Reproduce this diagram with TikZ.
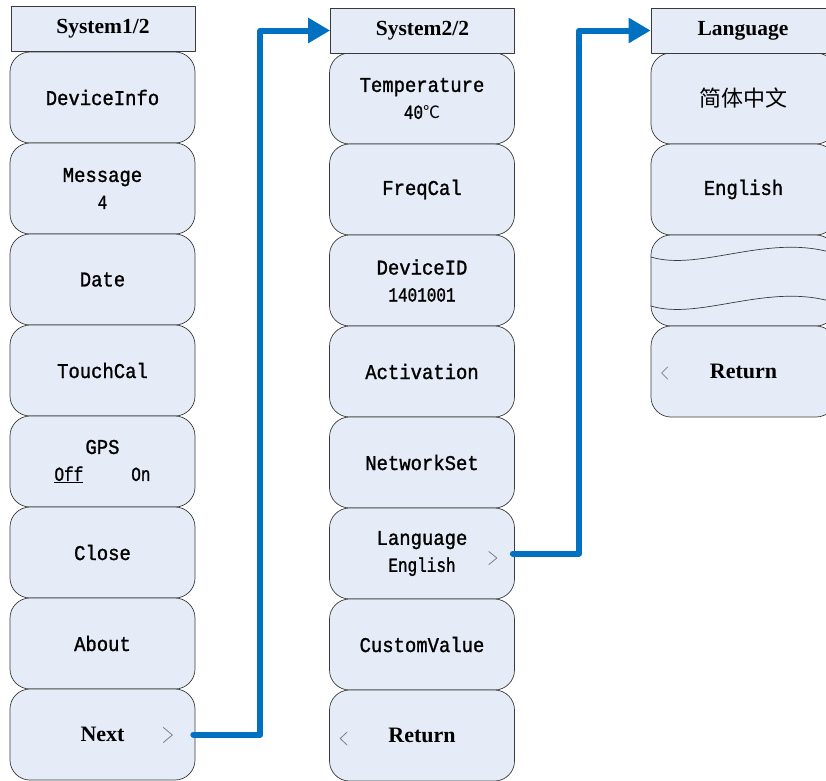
\documentclass[tikz,border=0pt]{standalone}
\usepackage{fontspec}
\setmainfont{Liberation Serif}
\newfontfamily\keyfont[FakeStretch=0.9,FakeBold=1.2]{Liberation Mono}
\newfontfamily\subfont[FakeStretch=0.8,FakeBold=1.2]{Liberation Mono}
\newfontfamily\cjkfont{Noto Sans CJK SC}
\usetikzlibrary{arrows.meta}
\definecolor{menuFill}{HTML}{E6ECF7}
\definecolor{menuEdge}{HTML}{3A3A3A}
\definecolor{menuLink}{HTML}{0070C0}
\definecolor{menuMuted}{HTML}{808080}
\tikzset{
  menu diagram/.style={x=1pt, y=-1pt, line cap=round, line join=round},
  menu head/.style={draw=menuEdge, fill=menuFill, line width=0.7pt,
    minimum width=184pt, minimum height=45pt, inner sep=0pt,
    font=\bfseries\fontsize{21.5}{24}\selectfont},
  menu key/.style={draw=menuEdge, fill=menuFill, line width=0.7pt,
    rounded corners=20pt, minimum width=185pt, minimum height=91pt,
    inner sep=0pt, align=center, font=\keyfont\fontsize{21}{27}\selectfont},
  menu bold key/.style={menu key, font=\bfseries\fontsize{22}{26}\selectfont},
  menu link/.style={-{Triangle[length=22pt,width=24pt]}, draw=menuLink,
    line width=6pt},
  menu chevron/.style={draw=menuMuted, line width=0.8pt},
  menu wave/.style={draw=menuEdge, line width=0.7pt}
}
\newcommand{\subline}[1]{{\subfont\fontsize{20}{27}\selectfont #1}}

\begin{document}
\begin{tikzpicture}[menu diagram]
\useasboundingbox (0,0) rectangle (826,780);
% page 1
\node[menu key] (devinfo) at (102.5,97.5) {DeviceInfo};
\node[menu key] (message) at (102.5,188.5) {Message\\\subline{4}};
\node[menu key] (date) at (102.5,279.5) {Date};
\node[menu key] (touchcal) at (102.5,370.5) {TouchCal};
\node[menu key] (gps) at (102.5,461.5) {GPS\\\subline{\underline{Off}\hspace{48pt}On}};
\node[menu key] (close) at (102.5,552.5) {Close};
\node[menu key] (about) at (102.5,643.5) {About};
\node[menu bold key] (next) at (102.5,734.5) {Next};
\node[menu head] (sys1) at (103,29) {System1/2};
% page 2
\node[menu key] (temp) at (422,98.5) {Temperature\\\subline{40{\cjkfont\fontsize{17}{27}\selectfont ℃}}};
\node[menu key] (freqcal) at (422,189.5) {FreqCal};
\node[menu key] (devid) at (422,280.5) {DeviceID\\\subline{1401001}};
\node[menu key] (activ) at (422,371.5) {Activation};
\node[menu key] (netset) at (422,462.5) {NetworkSet};
\node[menu key] (lang) at (422,553.5) {Language\\\subline{English}};
\node[menu key] (custom) at (422,644.5) {CustomValue};
\node[menu bold key] (return2) at (422,735.5) {Return};
\node[menu head] (sys2) at (422.5,30.5) {System2/2};
% language page
\node[menu key, font=\cjkfont\fontsize{22}{24}\selectfont] (zh) at (743.5,98.5) {简体中文};
\node[menu key] (en) at (743.5,189.5) {English};
\node[menu key] (blank) at (743.5,280.5) {};
\draw[menu wave] (651,257) .. controls (700,272) and (770,232) .. (836,254);
\draw[menu wave] (651,306) .. controls (700,321) and (770,281) .. (836,303);
\node[menu bold key] (return3) at (743.5,371.5) {Return};
\node[menu head] (langhead) at (743,30.5) {Language};
% chevrons
\draw[menu chevron] ([shift={(-32,-7)}]next.east) -- ++(9,7.5) -- ++(-9,7.5);
\draw[menu chevron] ([shift={(-26,-2)}]lang.east) -- ++(8,6.5) -- ++(-8,6.5);
\draw[menu chevron] ([shift={(18,-3.5)}]return2.west) -- ++(-7,6.5) -- ++(7,6.5);
\draw[menu chevron] ([shift={(17,-4.5)}]return3.west) -- ++(-6,6) -- ++(6,6);
% links
\draw[menu link] ([xshift=-2pt]next.east) -- ++(67,0) |- (sys2.west);
\draw[menu link] ([xshift=-2pt]lang.east) -- ++(66,0) |- (langhead.west);
\end{tikzpicture}
\end{document}
